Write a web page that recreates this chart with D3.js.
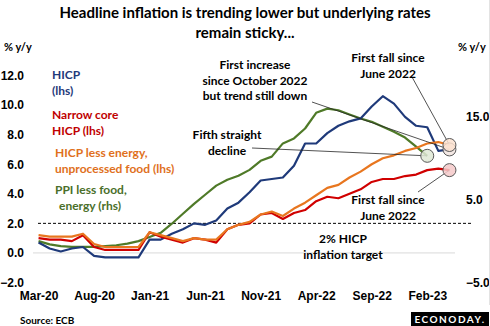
<!DOCTYPE html>
<html>
<head>
<meta charset="utf-8">
<script src="https://cdn.jsdelivr.net/npm/d3@7"></script>
<style>
  body { margin: 0; background: #fff; }
  svg { display: block; font-family: Lato, "Open Sans", sans-serif; font-weight: bold; }
  .axis text { font-size: 12px; fill: #000; font-weight: bold; }
  .axis .domain { display: none; }
</style>
</head>
<body>
<svg id="chart" width="490" height="326"></svg>
<script>
var months = ["Mar-20","Apr-20","May-20","Jun-20","Jul-20","Aug-20","Sep-20","Oct-20","Nov-20","Dec-20",
  "Jan-21","Feb-21","Mar-21","Apr-21","May-21","Jun-21","Jul-21","Aug-21","Sep-21","Oct-21","Nov-21","Dec-21",
  "Jan-22","Feb-22","Mar-22","Apr-22","May-22","Jun-22","Jul-22","Aug-22","Sep-22","Oct-22","Nov-22","Dec-22",
  "Jan-23","Feb-23","Mar-23","Apr-23"];

// lhs series
var hicp = [0.7,0.3,0.1,0.3,0.4,-0.2,-0.3,-0.3,-0.3,-0.3,
  0.9,0.9,1.3,1.6,2.0,1.9,2.2,3.0,3.4,4.1,4.9,5.0,
  5.1,5.9,7.4,7.4,8.1,8.6,8.9,9.1,9.9,10.6,10.1,9.2,
  8.6,8.5,6.9,7.0];
var narrowCore = [1.0,0.9,0.9,0.8,1.2,0.4,0.2,0.2,0.2,0.2,
  1.4,1.1,0.9,0.7,1.0,0.9,0.7,1.6,1.9,2.0,2.6,2.7,
  2.3,2.7,2.9,3.5,3.8,3.7,4.0,4.3,4.8,5.0,5.0,5.2,
  5.3,5.6,5.7,5.6];
var hicpExEnergyFood = [1.2,1.1,1.1,1.1,1.3,0.6,0.4,0.4,0.4,0.4,
  1.4,1.2,1.0,0.8,1.0,0.9,0.9,1.6,1.9,2.1,2.6,2.8,
  2.5,3.0,3.4,3.9,4.4,4.6,5.1,5.5,6.0,6.4,6.6,6.9,
  7.1,7.4,7.5,7.3];
// rhs series, ends Feb-23
var ppiExFoodEnergy = [0.0,-0.4,-0.6,-0.7,-0.7,-0.7,-0.6,-0.5,-0.3,0.0,
  0.5,1.0,2.1,3.3,4.5,5.6,6.7,7.4,7.9,8.6,9.7,10.2,
  11.8,12.4,13.6,15.5,16.0,15.8,15.3,14.8,14.4,13.8,13.2,12.5,
  11.4,10.3];

var xTickLabels = ["Mar-20","Aug-20","Jan-21","Jun-21","Nov-21","Apr-22","Sep-22","Feb-23"];
var leftTicks = [-2,0,2,4,6,8,10,12];
var rightTicks = [-5,5,15];
var targetRate = 2;

var svg = d3.select("#chart");

var plotLeft = 33, plotRight = 455, plotTop = 75.5, plotBottom = 282.5;

var x = d3.scalePoint().domain(months).range([plotLeft, plotRight]).padding(0.5);
var yL = d3.scaleLinear().domain([-2, 12]).range([plotBottom, plotTop]);
var yR = d3.scaleLinear().domain([-5, 20]).range([plotBottom, plotTop]);

// title
svg.append("g")
  .selectAll("text")
  .data(["Headline inflation is trending lower but underlying rates", "remain sticky..."])
  .enter()
  .append("text")
  .attr("x", 245)
  .attr("y", function (d, i) {return 13 + i * 20})
  .attr("dy", "0.35em")
  .attr("text-anchor", "middle")
  .style("font-size", "15px")
  .text(function (d) {return d});

// axis units
svg.append("text").attr("x", 4).attr("y", 47).attr("dy", "0.35em").style("font-size", "11px").text("% y/y");
svg.append("text").attr("x", 458).attr("y", 47).attr("dy", "0.35em").style("font-size", "11px").text("% y/y");

// zero line
svg.append("line")
  .attr("x1", plotLeft).attr("x2", plotRight)
  .attr("y1", yL(0)).attr("y2", yL(0))
  .style("stroke", "#d9d9d9")
  .style("stroke-width", 1);

// 2% target
svg.append("line")
  .attr("x1", 38).attr("x2", 473)
  .attr("y1", yL(targetRate)).attr("y2", yL(targetRate))
  .style("stroke", "#000")
  .style("stroke-width", 1)
  .style("stroke-dasharray", "3,2");

svg.append("g")
  .attr("class", "axis")
  .attr("transform", "translate(27,0)")
  .call(d3.axisLeft(yL).tickValues(leftTicks).tickSize(0).tickPadding(3).tickFormat(d3.format(".1f")));

svg.append("g")
  .attr("class", "axis")
  .attr("transform", "translate(463,0)")
  .call(d3.axisRight(yR).tickValues(rightTicks).tickSize(0).tickPadding(3).tickFormat(d3.format(".1f")));

svg.append("g")
  .attr("class", "axis")
  .attr("transform", "translate(0,288)")
  .call(d3.axisBottom(x).tickValues(xTickLabels).tickSize(0).tickPadding(3));

var lineL = d3.line()
  .x(function (d, i) {return x(months[i])})
  .y(function (d) {return yL(d)});
var lineR = d3.line()
  .x(function (d, i) {return x(months[i])})
  .y(function (d) {return yR(d)});

var series = [
  {values: ppiExFoodEnergy, line: lineR, color: "#4f7a28"},
  {values: hicp, line: lineL, color: "#1f3a7a"},
  {values: narrowCore, line: lineL, color: "#d00000"},
  {values: hicpExEnergyFood, line: lineL, color: "#e8761f"}
];

svg.append("g")
  .selectAll("path")
  .data(series)
  .enter()
  .append("path")
  .attr("d", function (d) {return d.line(d.values)})
  .style("fill", "none")
  .style("stroke", function (d) {return d.color})
  .style("stroke-width", 2.2)
  .style("stroke-linejoin", "round");

// legend
var legend = [
  {lines: ["HICP", "(lhs)"], color: "#1f3a7a", x: 52, y: 75},
  {lines: ["Narrow core", "HICP (lhs)"], color: "#c00000", x: 52, y: 115},
  {lines: ["HICP less energy,", "unprocessed food (lhs)"], color: "#e0701c", x: 55, y: 153},
  {lines: ["PPI less food,", " energy (rhs)"], color: "#4a6f2a", x: 55, y: 190}
];
legend.forEach(function (l) {
  svg.append("g")
    .selectAll("text")
    .data(l.lines)
    .enter()
    .append("text")
    .attr("x", function (d, i) {return l.x + (i && d.charAt(0) === " " ? 4 : 0)})
    .attr("y", function (d, i) {return l.y + i * 16})
    .attr("dy", "0.35em")
    .style("font-size", "12px")
    .style("fill", l.color)
    .text(function (d) {return d.trim()});
});

// annotations
var last = months.length - 1;
var marks = [
  {cx: x(months[35]), cy: yR(ppiExFoodEnergy[35]), fill: "#dfe9d6", from: [252, 148]},
  {cx: x(months[last]), cy: yL(hicp[last]), fill: "#f1e4df", from: [312, 102]},
  {cx: x(months[last]), cy: yL(hicpExEnergyFood[last]), fill: "#fbe2d0", from: [412, 77]},
  {cx: x(months[last]), cy: yL(narrowCore[last]), fill: "#f5c9c9", from: [418, 192]}
];

svg.append("g")
  .selectAll("line")
  .data(marks)
  .enter()
  .append("line")
  .attr("x1", function (d) {return d.from[0]})
  .attr("y1", function (d) {return d.from[1]})
  .attr("x2", function (d) {return d.cx})
  .attr("y2", function (d) {return d.cy})
  .style("stroke", "#262626")
  .style("stroke-width", 0.8);

svg.append("g")
  .selectAll("circle")
  .data(marks)
  .enter()
  .append("circle")
  .attr("cx", function (d) {return d.cx})
  .attr("cy", function (d) {return d.cy})
  .attr("r", 6.5)
  .style("fill", function (d) {return d.fill})
  .style("fill-opacity", 0.85)
  .style("stroke", "#595959")
  .style("stroke-width", 1);

var notes = [
  {lines: ["First increase", "since October 2022", "but trend still down"], x: 255, y: 65},
  {lines: ["Fifth straight", "decline"], x: 227, y: 135},
  {lines: ["First fall since", "June 2022"], x: 388, y: 58},
  {lines: ["First fall since", "June 2022"], x: 388, y: 200},
  {lines: ["2% HICP", "inflation target"], x: 343, y: 239}
];
notes.forEach(function (n) {
  svg.append("g")
    .selectAll("text")
    .data(n.lines)
    .enter()
    .append("text")
    .attr("x", n.x)
    .attr("y", function (d, i) {return n.y + i * 15.5})
    .attr("dy", "0.35em")
    .attr("text-anchor", "middle")
    .style("font-size", "12px")
    .style("fill", "#000")
    .text(function (d) {return d});
});

// footer
svg.append("text").attr("x", 20).attr("y", 320).attr("dy", "0.35em").style("font-size", "10px").text("Source: ECB");

svg.append("rect").attr("x", 411).attr("y", 312).attr("width", 78).attr("height", 14).style("fill", "#000");
svg.append("text")
  .attr("x", 450).attr("y", 319.5).attr("dy", "0.35em")
  .attr("text-anchor", "middle")
  .style("font-size", "10px")
  .style("letter-spacing", "1.5px")
  .style("fill", "#fff")
  .text("ECONODAY.");

svg.append("line")
  .attr("x1", 489.5).attr("x2", 489.5)
  .attr("y1", 0).attr("y2", 305)
  .style("stroke", "#e3e3e3");
</script>
</body>
</html>
